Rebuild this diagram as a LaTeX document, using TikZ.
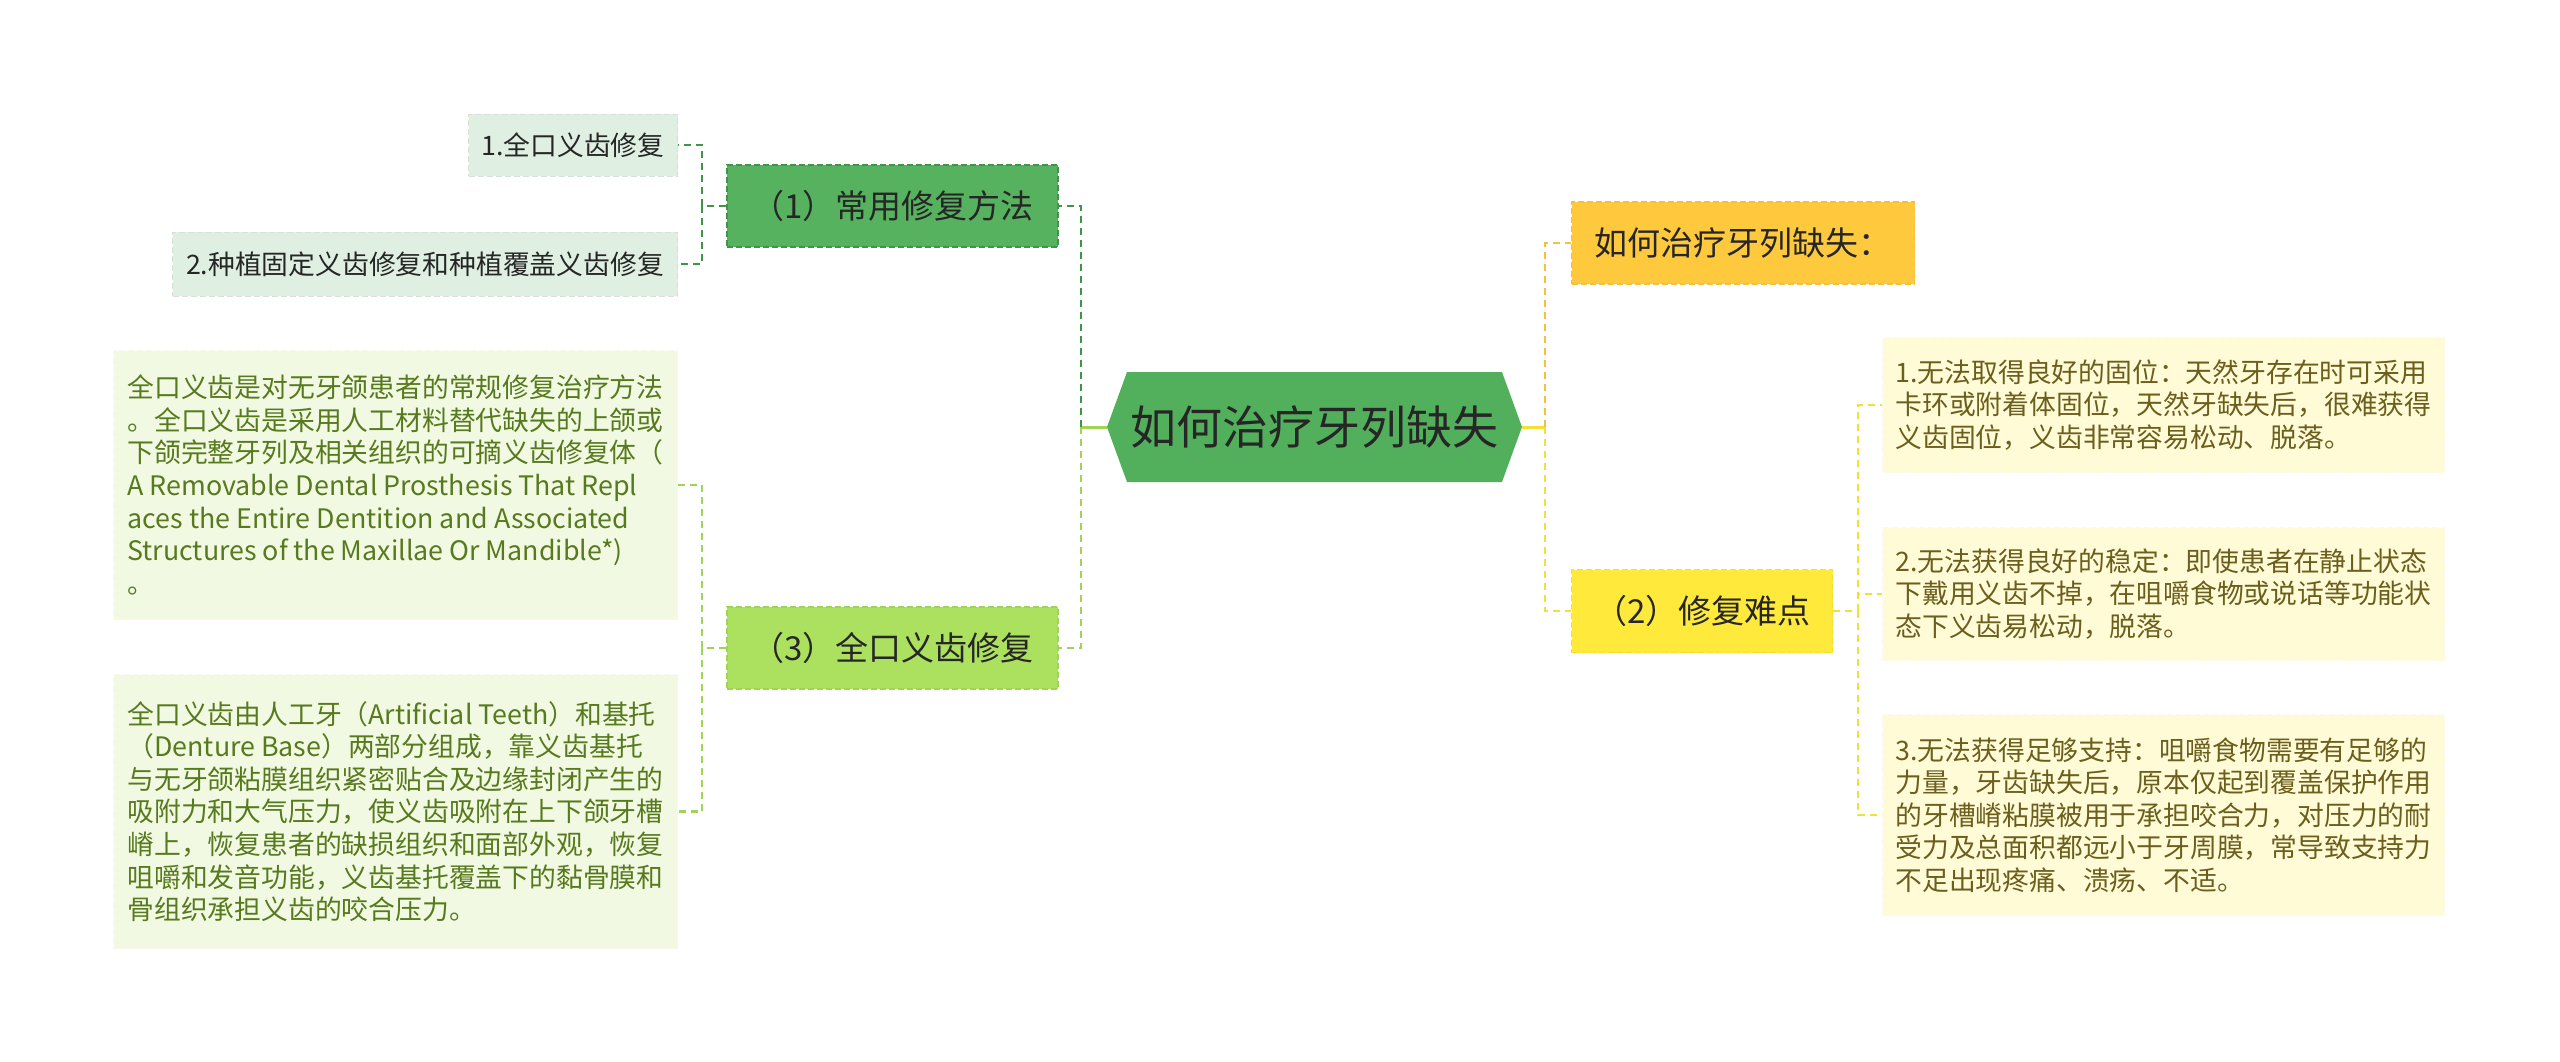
\documentclass[tikz,border=0pt]{standalone}
\usepackage{fontspec}
\setmainfont{Noto Sans CJK SC}
\usetikzlibrary{positioning,shapes.symbols}
\definecolor{rootgreen}{RGB}{82,176,92}
\definecolor{brgreen}{RGB}{86,178,94}
\definecolor{brgreenline}{RGB}{64,150,72}
\definecolor{leafgreen}{RGB}{223,240,227}
\definecolor{lime}{RGB}{172,225,96}
\definecolor{limeline}{RGB}{160,212,86}
\definecolor{leaflime}{RGB}{241,249,226}
\definecolor{limetext}{RGB}{88,122,30}
\definecolor{gold}{RGB}{255,201,61}
\definecolor{goldline}{RGB}{244,192,62}
\definecolor{lemon}{RGB}{255,234,60}
\definecolor{lemonline}{RGB}{240,224,56}
\definecolor{cream}{RGB}{255,251,215}
\definecolor{creamtext}{RGB}{108,94,28}
\definecolor{inkgray}{RGB}{38,38,38}

\tikzset{
  box/.style={rectangle, inner sep=0pt, align=center, text=inkgray},
  rootnode/.style={box, signal, signal to=west and east, signal pointer angle=140,
    fill=rootgreen, minimum width=207.5pt, minimum height=55pt, font=\fontsize{23}{27}\selectfont},
  topic/.style={box, draw, dash pattern=on 3pt off 1.5pt, line width=0.7pt, font=\fontsize{16.5}{20}\selectfont},
  leaf/.style={box, draw, dash pattern=on 3pt off 1.5pt, line width=0.5pt, font=\fontsize{13.4}{16.3}\selectfont},
  note/.style={leaf, align=left},
  link/.style={line width=1.2pt, dash pattern=on 3.5pt off 2.5pt},
  stub/.style={line width=1.5pt}
}

\begin{document}
\begin{tikzpicture}[x=0.5pt, y=-0.5pt]
\useasboundingbox (0,0) rectangle (2560,1061);

% root
\node[rootnode] (root) at (1314.5,427) {如何治疗牙列缺失};

% left branches
\node[topic, fill=brgreen, draw=brgreenline, minimum width=165.5pt, minimum height=41pt] (common) at (892.5,206) {（1）常用修复方法};
\node[topic, fill=lime, draw=limeline, minimum width=165.5pt, minimum height=41pt] (full) at (892.5,648) {（3）全口义齿修复};

\node[leaf, fill=leafgreen, draw=leafgreen!85!black!60, anchor=east, minimum width=104.5pt, minimum height=31pt] (fullrep) at (678,145) {1.全口义齿修复};
\node[leaf, fill=leafgreen, draw=leafgreen!85!black!60, anchor=east, minimum width=252.5pt, minimum height=32pt] (implant) at (678,264) {2.种植固定义齿修复和种植覆盖义齿修复};

\node[note, fill=leaflime, draw=leaflime!90!limetext!30, text=limetext, anchor=east, minimum width=282pt, minimum height=134.5pt] (define) at (678,485)
  {全口义齿是对无牙颌患者的常规修复治疗方法\\。全口义齿是采用人工材料替代缺失的上颌或\\下颌完整牙列及相关组织的可摘义齿修复体（\\A Removable Dental Prosthesis That Repl\\aces the Entire Dentition and Associated\\Structures of the Maxillae Or Mandible*)\\。};
\node[note, fill=leaflime, draw=leaflime!90!limetext!30, text=limetext, below=27pt of define, minimum width=282pt, minimum height=137pt] (parts)
  {全口义齿由人工牙（Artificial Teeth）和基托\\（Denture Base）两部分组成，靠义齿基托\\与无牙颌粘膜组织紧密贴合及边缘封闭产生的\\吸附力和大气压力，使义齿吸附在上下颌牙槽\\嵴上，恢复患者的缺损组织和面部外观，恢复\\咀嚼和发音功能，义齿基托覆盖下的黏骨膜和\\骨组织承担义齿的咬合压力。};

% right branches
\node[topic, fill=gold, draw=goldline, anchor=west, minimum width=171.5pt, minimum height=41pt] (how) at (1571,243) {如何治疗牙列缺失：};
\node[topic, fill=lemon, draw=lemonline, anchor=west, minimum width=130.5pt, minimum height=41.5pt] (hard) at (1571,611) {（2）修复难点};

\node[note, fill=cream, draw=cream!90!creamtext!25, text=creamtext, anchor=west, minimum width=281pt, minimum height=67.5pt] (retain) at (1882,405)
  {1.无法取得良好的固位：天然牙存在时可采用\\卡环或附着体固位，天然牙缺失后，很难获得\\义齿固位，义齿非常容易松动、脱落。};
\node[note, fill=cream, draw=cream!90!creamtext!25, text=creamtext, below=27pt of retain, minimum width=281pt, minimum height=66.5pt] (stable)
  {2.无法获得良好的稳定：即使患者在静止状态\\下戴用义齿不掉，在咀嚼食物或说话等功能状\\态下义齿易松动，脱落。};
\node[note, fill=cream, draw=cream!90!creamtext!25, text=creamtext, below=26.5pt of stable, minimum width=281pt, minimum height=100.5pt] (support)
  {3.无法获得足够支持：咀嚼食物需要有足够的\\力量，牙齿缺失后，原本仅起到覆盖保护作用\\的牙槽嵴粘膜被用于承担咬合力，对压力的耐\\受力及总面积都远小于牙周膜，常导致支持力\\不足出现疼痛、溃疡、不适。};

% junctions
\coordinate (jl) at (1081,427);
\coordinate (jr) at (1545,427);
\coordinate (jc) at (702,206);
\coordinate (jf) at (702,648);
\coordinate (jh) at (1858,611);

% connectors
\draw[stub, limeline] (root.west) -- (jl);
\draw[link, brgreenline] (jl) |- (common.east);
\draw[link, limeline] (jl) |- (full.east);
\draw[stub, lemonline] (root.east) -- (jr);
\draw[link, goldline] (jr) |- (how.west);
\draw[link, lemonline] (jr) |- (hard.west);

\draw[link, brgreenline] (common.west) -- (jc);
\draw[link, brgreenline] (jc) |- (fullrep.east);
\draw[link, brgreenline] (jc) |- (implant.east);
\draw[link, limeline] (full.west) -- (jf);
\draw[link, limeline] (jf) |- (define.east);
\draw[link, limeline] (jf) |- (parts.east);
\draw[link, lemonline] (hard.east) -- (jh);
\draw[link, lemonline] (jh) |- (retain.west);
\draw[link, lemonline] (jh) |- (stable.west);
\draw[link, lemonline] (jh) |- (support.west);
\end{tikzpicture}
\end{document}
